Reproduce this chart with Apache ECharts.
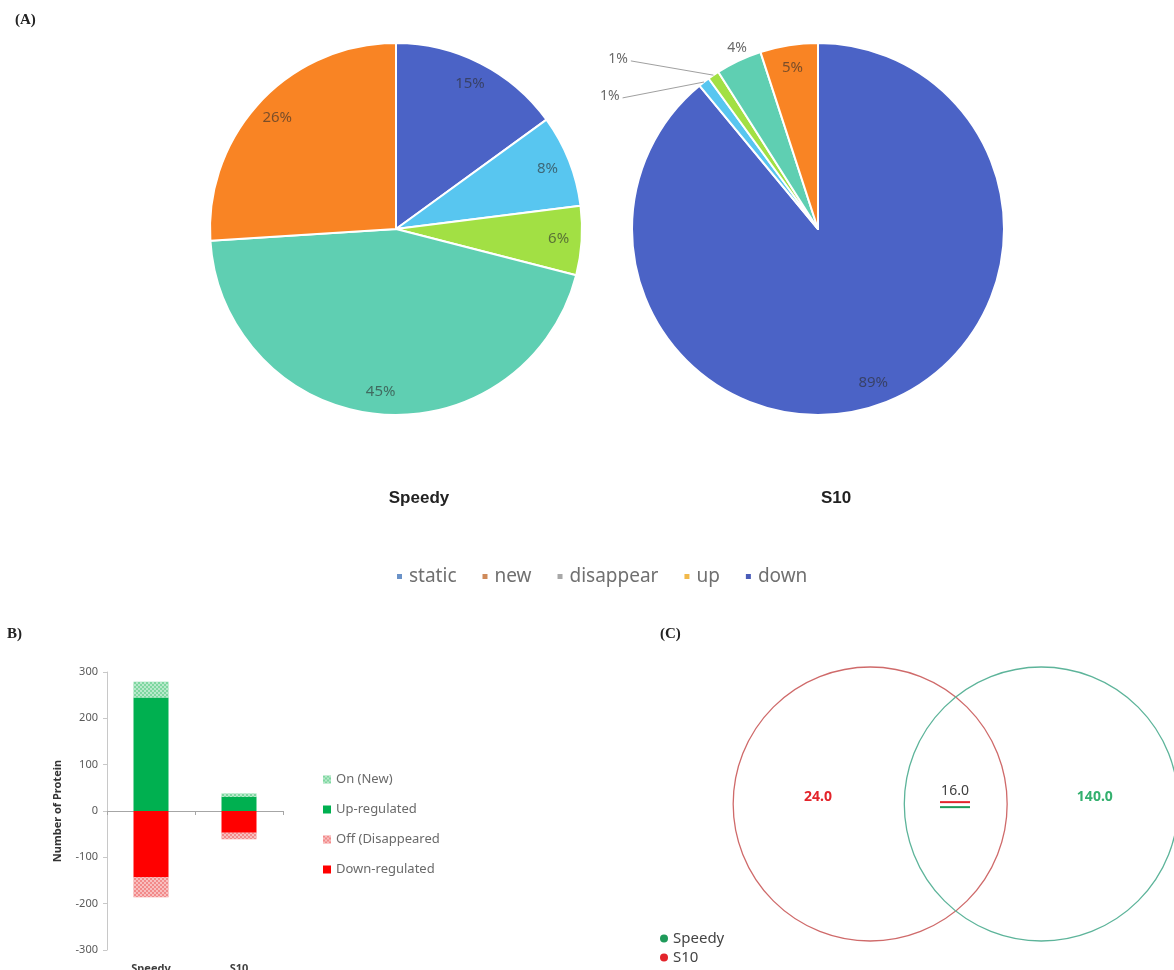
<!DOCTYPE html>
<html>
<head>
<meta charset="utf-8">
<script src="https://cdn.jsdelivr.net/npm/echarts@6/dist/echarts.min.js"></script>
<style>
html,body{margin:0;padding:0;background:#fff;}
#main{width:1174px;height:970px;}
</style>
</head>
<body>
<div id="main"></div>
<script>
// ---------- DATA ----------
const pieCategories = ['down', 'static', 'up', 'disappear', 'new'];
const speedyPct = [15, 8, 6, 45, 26];
const s10Pct = [89, 1, 1, 4, 5];
const pieLegendOrder = ['static', 'new', 'disappear', 'up', 'down'];
const pieTitles = ['Speedy', 'S10'];

const barCategories = ['Speedy', 'S10'];
const onNew = [34, 8];
const upRegulated = [245, 30];
const offDisappeared = [-43, -14];
const downRegulated = [-143, -47];
const barSeriesNames = ['On (New)', 'Up-regulated', 'Off (Disappeared', 'Down-regulated'];

const vennSets = ['S10', 'Speedy'];
const vennCounts = [24.0, 16.0, 140.0]; // S10 only, both, Speedy only
const vennLegendOrder = ['Speedy', 'S10'];

// ---------- STYLE ----------
const sliceColors = { down: '#4b63c6', static: '#58c6f0', up: '#a2e044', disappear: '#5fcfb2', 'new': '#f98424' };
const pieLegendColors = { static: '#6a92c8', 'new': '#cf8a5a', disappear: '#a8a8a8', up: '#f2b94a', down: '#4a5cb8' };
const barColors = { 'On (New)': '#7ed7a0', 'Up-regulated': '#00b050', 'Off (Disappeared': '#f28a8a', 'Down-regulated': '#ff0000' };
const vennStroke = { S10: '#cf6a6a', Speedy: '#5db49a' };
const vennDot = { S10: '#e3242b', Speedy: '#1f9a5a' };
const R = 186;
const font = 'Noto Sans, Open Sans, sans-serif';

// small nudges of outside labels for the thin S10 slices (label placement only)
const outsideLabelNudge = { 1: [-8, 5], 2: [-19, -16], 3: [14, -11] };

function pieMain(values, center) {
  return {
    type: 'pie', radius: R, center: center, silent: true,
    startAngle: 90, clockwise: true, label: { show: false }, labelLine: { show: false },
    itemStyle: { borderColor: '#fff', borderWidth: 2 },
    data: pieCategories.map((n, i) => ({ name: n, value: values[i], itemStyle: { color: sliceColors[n] } }))
  };
}
function pieLabels(values, center, nudge) {
  const s = {
    type: 'pie', radius: [R * 0.72, R], center: center, silent: true, z: 5,
    startAngle: 90, clockwise: true,
    itemStyle: { color: 'rgba(0,0,0,0)', borderWidth: 0 },
    label: { show: true, position: 'inner', formatter: '{c}%', fontSize: 15, fontFamily: font, color: 'rgba(45,45,45,0.62)' },
    data: pieCategories.map((n, i) => {
      const v = values[i];
      const d = { name: n, value: v };
      if (v < 5) {
        d.label = { position: 'outside', color: '#6a6a6a', fontSize: 14, fontFamily: font };
        if (v < 2) {
          d.labelLine = { show: true, length: 6, length2: 58, lineStyle: { color: '#a0a0a0', width: 1 } };
        } else {
          d.labelLine = { show: false, length: 2, length2: 0 };
        }
      }
      return d;
    })
  };
  if (nudge) {
    s.labelLayout = function (params) {
      const nd = nudge[params.dataIndex];
      if (!nd) return {};
      const out = { dx: nd[0], dy: nd[1] };
      const pts = params.labelLinePoints;
      if (pts && pts.length) {
        const lr = params.labelRect;
        out.labelLinePoints = [pts[0], [lr.x + lr.width + 3 + nd[0], lr.y + lr.height / 2 + nd[1] + 2]];
      }
      return out;
    };
  }
  return s;
}

const chart = echarts.init(document.getElementById('main'), null, { renderer: 'canvas' });

const option = {
  backgroundColor: '#fff',
  animation: false,
  title: [
    { text: '(A)', left: 10, top: 8, textStyle: { fontFamily: 'Liberation Serif, serif', fontWeight: 'bold', fontSize: 15, color: '#222' } },
    { text: 'B)', left: 2, top: 622, textStyle: { fontFamily: 'Liberation Serif, serif', fontWeight: 'bold', fontSize: 15, color: '#222' } },
    { text: '(C)', left: 655, top: 622, textStyle: { fontFamily: 'Liberation Serif, serif', fontWeight: 'bold', fontSize: 15, color: '#222' } },
    { text: pieTitles[0], left: 414, top: 493, textAlign: 'center', textVerticalAlign: 'middle', textStyle: { fontFamily: 'Liberation Sans, Arial, sans-serif', fontWeight: 'bold', fontSize: 17, color: '#222' } },
    { text: pieTitles[1], left: 831, top: 493, textAlign: 'center', textVerticalAlign: 'middle', textStyle: { fontFamily: 'Liberation Sans, Arial, sans-serif', fontWeight: 'bold', fontSize: 17, color: '#222' } }
  ],
  legend: [
    {
      left: 390, top: 562, orient: 'horizontal', icon: 'rect', itemWidth: 7, itemHeight: 7, itemGap: 24,
      selectedMode: false,
      textStyle: { fontSize: 19, fontFamily: font, color: '#707070', padding: [0, 0, 0, 1] },
      data: pieLegendOrder.map(n => ({ name: n, itemStyle: { color: pieLegendColors[n] } }))
    },
    {
      left: 318, top: 768, orient: 'vertical', icon: 'rect', itemWidth: 8, itemHeight: 8, itemGap: 17,
      selectedMode: false,
      textStyle: { fontSize: 13, fontFamily: font, color: '#6a6a6a' },
      data: barSeriesNames
    },
    {
      left: 655, top: 926, orient: 'vertical', icon: 'circle', itemWidth: 8, itemHeight: 8, itemGap: 4,
      selectedMode: false,
      textStyle: { fontSize: 15, fontFamily: font, color: '#444' },
      data: vennLegendOrder.map(n => ({ name: n, itemStyle: { color: vennDot[n] } }))
    }
  ],
  grid: [
    { left: 107, top: 672, width: 176, height: 278, containLabel: false, outerBoundsMode: 'none' },
    { left: 700, top: 640, width: 474, height: 330, containLabel: false, outerBoundsMode: 'none' }
  ],
  xAxis: [
    {
      type: 'category', gridIndex: 0, data: barCategories, boundaryGap: true,
      axisLine: { onZero: true, lineStyle: { color: '#a6a6a6', width: 1 } },
      axisTick: { show: true, length: 4, lineStyle: { color: '#a6a6a6' } },
      axisLabel: { show: false }
    },
    {
      type: 'category', gridIndex: 0, position: 'bottom', data: barCategories,
      axisLine: { show: false }, axisTick: { show: false },
      axisLabel: { show: true, margin: 13, fontSize: 11, fontWeight: 'bold', fontFamily: font, color: '#404040' }
    },
    { type: 'value', gridIndex: 1, min: 0, max: 100, show: false }
  ],
  yAxis: [
    {
      type: 'value', gridIndex: 0, min: -300, max: 300, interval: 100,
      name: 'Number of Protein', nameLocation: 'middle', nameGap: 44, nameRotate: 90,
      nameTextStyle: { fontSize: 11, fontWeight: 'bold', fontFamily: font, color: '#333' },
      axisLine: { show: true, lineStyle: { color: '#c8c8c8' } },
      axisTick: { show: true, length: 4, lineStyle: { color: '#c8c8c8' } },
      axisLabel: { fontSize: 11, fontFamily: font, color: '#595959', margin: 9 },
      splitLine: { show: false }
    },
    { type: 'value', gridIndex: 1, min: 0, max: 100, show: false }
  ],
  series: [
    pieMain(speedyPct, [396, 229]),
    pieLabels(speedyPct, [396, 229], null),
    pieMain(s10Pct, [818, 229]),
    pieLabels(s10Pct, [818, 229], outsideLabelNudge),
    // bars
    {
      name: 'Up-regulated', type: 'bar', stack: 'p', xAxisIndex: 0, yAxisIndex: 0, barWidth: 35,
      itemStyle: { color: barColors['Up-regulated'] }, data: upRegulated, silent: true
    },
    {
      name: 'On (New)', type: 'bar', stack: 'p', xAxisIndex: 0, yAxisIndex: 0, barWidth: 35,
      itemStyle: {
        color: barColors['On (New)'],
        decal: { symbol: 'rect', symbolSize: 1, color: 'rgba(255,255,255,0.45)', dashArrayX: [[2, 2], [0, 2, 2, 0]], dashArrayY: [2, 0] }
      },
      data: onNew, silent: true
    },
    {
      name: 'Down-regulated', type: 'bar', stack: 'p', xAxisIndex: 0, yAxisIndex: 0, barWidth: 35,
      itemStyle: { color: barColors['Down-regulated'] }, data: downRegulated, silent: true
    },
    {
      name: 'Off (Disappeared', type: 'bar', stack: 'p', xAxisIndex: 0, yAxisIndex: 0, barWidth: 35,
      itemStyle: {
        color: barColors['Off (Disappeared'],
        decal: { symbol: 'rect', symbolSize: 1, color: 'rgba(255,255,255,0.45)', dashArrayX: [[2, 2], [0, 2, 2, 0]], dashArrayY: [2, 0] }
      },
      data: offDisappeared, silent: true
    },
    // venn circles
    ...vennSets.map((setName, si) => ({
      name: setName, type: 'custom', xAxisIndex: 2, yAxisIndex: 1, silent: true,
      itemStyle: { color: vennDot[setName] },
      data: [[si]],
      renderItem: function (params, api) {
        const cx = si === 0 ? 35.9 : 72.0;
        const p = api.coord([cx, 50.3]);
        const r = api.size([28.9, 0])[0];
        return {
          type: 'circle', shape: { cx: p[0], cy: p[1], r: r },
          style: { fill: 'none', stroke: vennStroke[setName], lineWidth: 1.3 }
        };
      }
    })),
    // venn counts
    {
      type: 'custom', xAxisIndex: 2, yAxisIndex: 1, silent: true, z: 10,
      data: vennCounts.map((v, i) => [i, v]),
      renderItem: function (params, api) {
        const i = api.value(0);
        const v = api.value(1);
        const xs = [24.9, 53.8, 83.3];
        const ys = [52.4, 54.2, 52.4];
        const p = api.coord([xs[i], ys[i]]);
        const txt = v.toFixed(1);
        const colors = [vennDot.S10, '#404040', '#33b06e'];
        const children = [{
          type: 'text', x: p[0], y: p[1],
          style: { text: txt, fill: colors[i], fontSize: 14, fontFamily: font, fontWeight: i === 1 ? 'normal' : 'bold', align: 'center', verticalAlign: 'middle' }
        }];
        if (i === 1) {
          children.push({ type: 'line', shape: { x1: p[0] - 15, y1: p[1] + 11, x2: p[0] + 15, y2: p[1] + 11 }, style: { stroke: vennDot.S10, lineWidth: 2 } });
          children.push({ type: 'line', shape: { x1: p[0] - 15, y1: p[1] + 16, x2: p[0] + 15, y2: p[1] + 16 }, style: { stroke: vennDot.Speedy, lineWidth: 2 } });
        }
        return { type: 'group', children: children };
      }
    }
  ]
};
chart.setOption(option);
</script>
</body>
</html>
